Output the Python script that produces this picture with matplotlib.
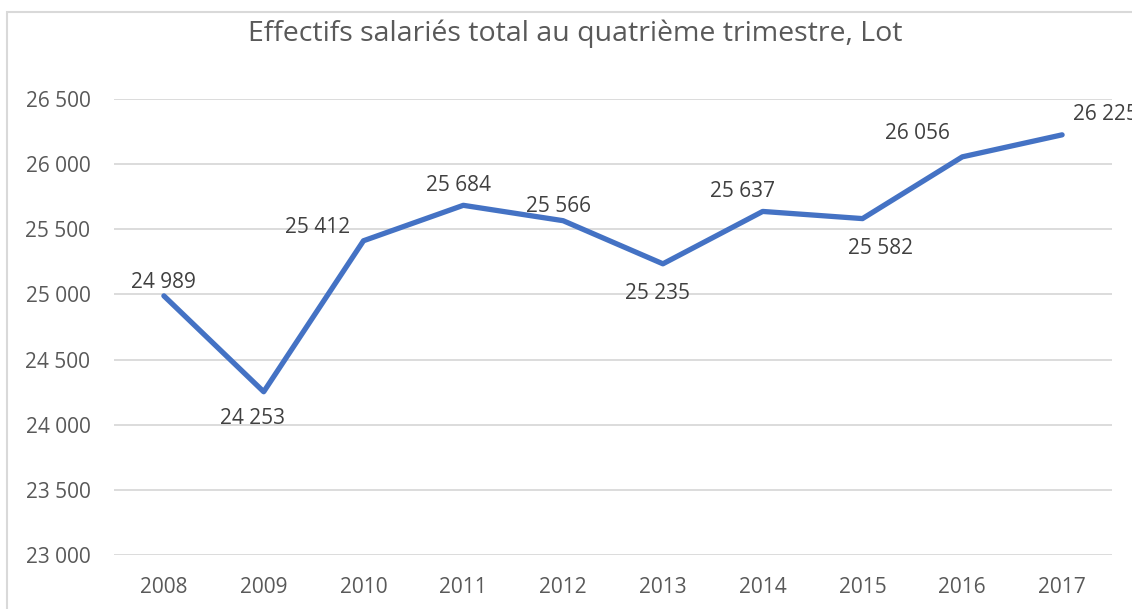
import matplotlib
matplotlib.use("Agg")
import matplotlib.pyplot as plt
from matplotlib.patches import Rectangle
from matplotlib.ticker import FuncFormatter

years = ["2008", "2009", "2010", "2011", "2012", "2013", "2014", "2015", "2016", "2017"]
values = [24989, 24253, 25412, 25684, 25566, 25235, 25637, 25582, 26056, 26225]
yticks = [23000, 23500, 24000, 24500, 25000, 25500, 26000, 26500]
title = "Effectifs salariés total au quatrième trimestre, Lot"

# label offsets in pixels (dx, dy)
offsets = [(0, 13), (-11, -27), (-46, 13), (-5, 20), (-5, 14),
           (-5, -30), (-20, 20), (18, -30), (-45, 23), (43, 20)]

def fmt(v):
    return f"{int(v):,}".replace(",", " ")

plt.rcParams['font.family'] = ['Open Sans', 'DejaVu Sans']

W, H = 1132, 609
fig = plt.figure(figsize=(W / 100, H / 100), dpi=100)
fig.patch.set_facecolor("white")

# chart border (cropped at right and bottom)
fig.patches.append(Rectangle((7 / W, -0.1), 1.2, 1.1 - 12 / H,
                             transform=fig.transFigure, fill=False,
                             edgecolor="#D9D9D9", linewidth=1.5))

left, right = 114, 1112
top, bottom = 99, 555
ax = fig.add_axes([left / W, 1 - bottom / H, (right - left) / W, (bottom - top) / H])
x = list(range(len(years)))
ax.plot(x, values, color="#4472C4", linewidth=3.8, solid_capstyle="round",
        solid_joinstyle="round", zorder=3)
ax.set_xlim(-0.5, len(years) - 0.5)
ax.set_ylim(yticks[0], yticks[-1])
ax.set_yticks(yticks)
ax.yaxis.set_major_formatter(FuncFormatter(lambda v, p: fmt(v)))
ax.set_xticks(x)
ax.set_xticklabels(years)
ax.grid(axis="y", color="#D9D9D9", linewidth=1.3)
ax.set_axisbelow(True)
for s in ax.spines.values():
    s.set_visible(False)
ax.tick_params(axis="both", length=0, colors="#595959", labelsize=15)
ax.tick_params(axis="y", pad=17)
ax.tick_params(axis="x", pad=16)
ax.patch.set_alpha(0)

for xi, v, (dx, dy) in zip(x, values, offsets):
    ax.annotate(fmt(v), (xi, v), xytext=(dx, dy), textcoords="offset pixels",
                ha="center", va="center", fontsize=15, color="#404040",
                annotation_clip=False)

fig.text(575 / W, 1 - 34 / H, title, ha="center", va="center",
         fontsize=20.5, color="#595959")

fig.savefig("out.png", dpi=100, facecolor="white")
